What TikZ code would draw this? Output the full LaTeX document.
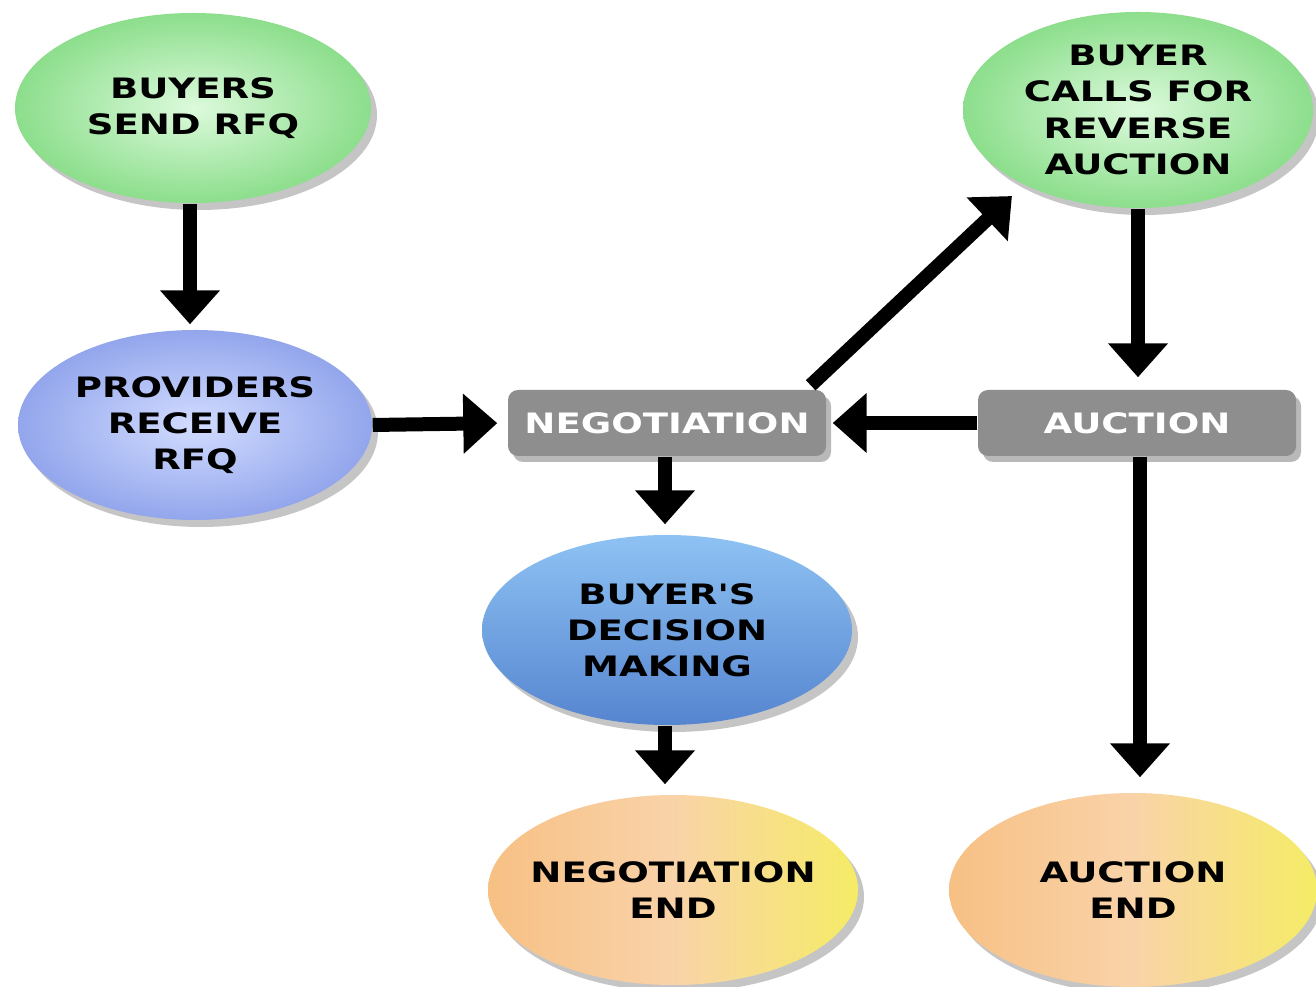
\documentclass[tikz,border=0pt]{standalone}
\usepackage{fontspec}
\usetikzlibrary{positioning, arrows.meta, shapes.geometric, shadows}
\newfontfamily\boxfont[FakeStretch=1.32]{DejaVu Sans}
\definecolor{greenout}{HTML}{8CDE8C}
\definecolor{greenin}{HTML}{DCFADC}
\definecolor{lavout}{HTML}{93A6EC}
\definecolor{lavin}{HTML}{D2DCFF}
\definecolor{bluetop}{HTML}{8EC2F3}
\definecolor{bluebot}{HTML}{5685D0}
\definecolor{peach}{HTML}{F7C084}
\definecolor{lemon}{HTML}{F5EC66}
\definecolor{boxgrey}{HTML}{8E8E8E}

\begin{document}
\begin{tikzpicture}[
                arrow/.style={-{Triangle[width=5.8mm, length=3.4mm]}, line width=1.4mm},
                textstyle/.style={font=\boxfont\bfseries\fontsize{8}{10.3}\selectfont, align=center},
                oval/.style={ellipse, textstyle, inner xsep=-0.2cm, inner ysep=-0.05cm,
                    drop shadow={opacity=0.45, shadow xshift=0.06cm, shadow yshift=-0.07cm}},
                greenoval/.style={oval, inner color=greenin, outer color=greenout},
                lavoval/.style={oval, inner color=lavin, outer color=lavout},
                blueoval/.style={oval, top color=bluetop, bottom color=bluebot},
                endoval/.style={oval, left color=peach, right color=lemon, middle color=peach!70!white},
                stagebox/.style={rectangle, rounded corners=1mm, fill=boxgrey, text=white,
                    textstyle, minimum width=3.18cm, minimum height=0.66cm,
                    drop shadow={opacity=0.55, shadow xshift=0.05cm, shadow yshift=-0.06cm}}
            ]
                \useasboundingbox[fill=white] (0,0) rectangle (13.16,9.87);

                % Request side
                \node[greenoval, minimum width=3.56cm, minimum height=1.9cm] (buyers) at (1.93,8.79) {BUYERS\\SEND RFQ};
                \node[lavoval, minimum width=3.54cm, minimum height=1.9cm] (providers) at (1.95,5.62) {PROVIDERS\\RECEIVE\\RFQ};

                % Stage boxes
                \node[stagebox] (negotiation) at (6.67,5.64) {NEGOTIATION};
                \node[stagebox] (auction) at (11.37,5.64) {AUCTION};

                % Reverse auction call
                \node[greenoval, minimum width=3.5cm, minimum height=1.96cm] (calls) at (11.38,8.77) {BUYER\\CALLS FOR\\REVERSE\\AUCTION};

                % Decision and end nodes
                \node[blueoval, minimum width=3.7cm, minimum height=1.9cm] (decision) at (6.67,3.57) {BUYER'S\\DECISION\\MAKING};
                \node[endoval, minimum width=3.7cm, minimum height=1.9cm] (negend) at (6.73,0.97) {NEGOTIATION\\END};
                \node[endoval, minimum width=3.68cm, minimum height=1.94cm] (aucend) at (11.33,0.97) {AUCTION\\END};

                % Arrows
                \draw[arrow, shorten >=0.05cm] ([xshift=-0.03cm]buyers.south) -- ([xshift=-0.03cm]buyers.south |- providers.north);
                \draw[arrow, shorten >=0.1cm] (providers.east) -- (negotiation.west);
                \draw[arrow] ([xshift=-0.16cm, yshift=0.04cm]negotiation.north east) -- ([xshift=-0.4cm]calls.225);
                \draw[arrow, shorten >=0.12cm] (calls.south) -- (calls.south |- auction.north);
                \draw[arrow, shorten >=0.06cm] (auction.west) -- (negotiation.east);
                \draw[arrow, shorten >=0.1cm] ([xshift=-0.02cm]negotiation.south) -- ([xshift=-0.02cm]negotiation.south |- decision.north);
                \draw[arrow, shorten >=0.1cm] ([xshift=-0.02cm]decision.south) -- ([xshift=-0.02cm]decision.south |- negend.north);
                \draw[arrow, shorten >=0.15cm] ([xshift=0.03cm]auction.south) -- ([xshift=0.03cm]auction.south |- aucend.north);
            \end{tikzpicture}
\end{document}
